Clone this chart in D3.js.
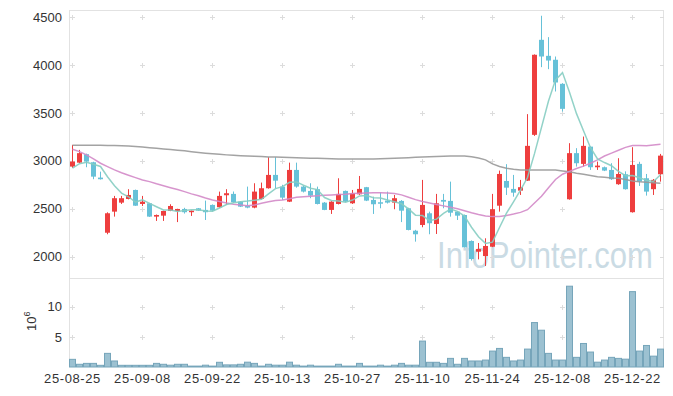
<!DOCTYPE html>
<html><head><meta charset="utf-8">
<script src="https://cdn.jsdelivr.net/npm/d3@7"></script>
<style>body{margin:0;background:#fff}svg{display:block}text{font-family:"Liberation Sans",Arial,sans-serif}</style>
</head><body><svg id="c" width="673" height="396"></svg>
<script>
const dates = [
"25-08-25","25-08-26","25-08-27","25-08-28","25-08-29",
"25-09-01","25-09-02","25-09-03","25-09-04","25-09-05",
"25-09-08","25-09-09","25-09-10","25-09-11","25-09-12",
"25-09-15","25-09-16","25-09-17","25-09-18","25-09-19",
"25-09-22","25-09-23","25-09-24","25-09-25","25-09-26",
"25-09-29","25-09-30","25-10-01","25-10-02","25-10-10",
"25-10-13","25-10-14","25-10-15","25-10-16","25-10-17",
"25-10-20","25-10-21","25-10-22","25-10-23","25-10-24",
"25-10-27","25-10-28","25-10-29","25-10-30","25-10-31",
"25-11-03","25-11-04","25-11-05","25-11-06","25-11-07",
"25-11-10","25-11-11","25-11-12","25-11-13","25-11-14",
"25-11-17","25-11-18","25-11-19","25-11-20","25-11-21",
"25-11-24","25-11-25","25-11-26","25-11-27","25-11-28",
"25-12-01","25-12-02","25-12-03","25-12-04","25-12-05",
"25-12-08","25-12-09","25-12-10","25-12-11","25-12-12",
"25-12-15","25-12-16","25-12-17","25-12-18","25-12-19",
"25-12-22","25-12-23","25-12-24","25-12-26","25-12-29"];
const open  = [2940,2981,3069,2985,2825,2250,2470,2564,2602,2696,2550,2557,2418,2428,2477,2477,2498,2464,2505,2488,2540,2516,2641,2655,2574,2532,2512,2602,2714,2853,2731,2574,2905,2731,2686,2704,2564,2488,2550,2686,2557,2651,2725,2592,2568,2585,2564,2582,2505,2271,2331,2453,2341,2592,2582,2470,2435,2164,2052,2007,2104,2532,2790,2707,2689,2793,3271,4262,4095,4054,3803,2599,3080,2968,3148,2933,2933,2905,2756,2860,2464,2968,2818,2704,2860];
const high  = [3166,3114,3075,2990,2887,2463,2634,2634,2704,2700,2634,2562,2440,2480,2547,2500,2510,2482,2508,2585,2545,2679,2704,2680,2580,2731,2766,2773,3038,3038,2750,2981,2981,2740,2766,2731,2570,2580,2818,2690,2696,2842,2728,2626,2672,2679,2644,2590,2510,2280,2801,2470,2655,2655,2783,2475,2440,2170,2143,2192,2655,2898,2965,2853,2801,3487,4110,4513,4290,4088,3810,3184,3132,3253,3150,2992,2940,2975,3027,2890,3142,2990,2863,2810,3072];
const low   = [2926,2975,2933,2808,2805,2234,2418,2550,2598,2530,2529,2415,2373,2373,2475,2361,2450,2425,2478,2383,2478,2510,2540,2560,2518,2505,2505,2595,2710,2714,2592,2570,2720,2670,2610,2545,2485,2446,2545,2570,2550,2645,2580,2446,2505,2555,2495,2361,2275,2157,2307,2234,2237,2505,2418,2383,2095,1960,1972,1903,2100,2470,2644,2626,2644,2790,3260,3977,3956,3723,3514,2595,2940,2940,2905,2905,2893,2800,2750,2700,2460,2738,2637,2644,2783];
const close = [2992,3080,2992,2835,2808,2453,2610,2610,2644,2532,2574,2418,2435,2477,2529,2498,2464,2480,2480,2464,2480,2634,2662,2568,2522,2512,2679,2714,2853,2793,2616,2905,2731,2679,2637,2550,2488,2574,2655,2574,2662,2707,2585,2547,2557,2564,2610,2480,2279,2234,2540,2349,2557,2574,2459,2428,2098,1976,2080,2112,2495,2863,2720,2668,2725,3156,4106,4088,4046,3817,3542,3080,2975,3156,2933,2950,2898,2808,2863,2704,2957,2783,2679,2801,3054];
const ma5   = [2923,2970,2985,2965,2941,2834,2740,2663,2625,2570,2594,2556,2521,2487,2487,2471,2481,2490,2490,2477,2474,2508,2544,2562,2573,2580,2589,2599,2656,2710,2731,2776,2780,2745,2714,2700,2617,2586,2581,2568,2591,2634,2637,2615,2612,2592,2573,2552,2498,2433,2429,2376,2392,2451,2496,2473,2423,2307,2208,2139,2152,2305,2454,2572,2694,2826,3075,3349,3624,3843,3920,3715,3492,3314,3137,3019,2982,2949,2890,2845,2846,2823,2797,2785,2855];
const ma20  = [3121,3096,3062,3020,2975,2940,2905,2875,2850,2825,2800,2783,2760,2740,2720,2700,2679,2655,2635,2612,2592,2575,2560,2548,2538,2532,2540,2557,2572,2585,2592,2605,2620,2625,2630,2635,2640,2644,2648,2652,2658,2662,2665,2668,2668,2665,2658,2645,2620,2595,2575,2560,2545,2530,2515,2500,2480,2458,2440,2425,2418,2420,2430,2445,2462,2490,2560,2630,2720,2805,2860,2890,2920,2945,2975,3010,3050,3080,3110,3140,3160,3160,3156,3165,3172];
const ma120 = [3163,3163,3163,3162,3162,3161,3160,3158,3155,3150,3143,3136,3130,3124,3117,3110,3104,3095,3087,3080,3074,3068,3062,3057,3053,3050,3047,3044,3041,3039,3037,3035,3032,3030,3028,3026,3024,3022,3020,3019,3018,3018,3019,3020,3022,3024,3027,3030,3033,3036,3039,3042,3044,3047,3050,3051,3051,3042,3030,3010,2968,2940,2922,2912,2905,2905,2905,2905,2905,2903,2895,2885,2870,2860,2848,2835,2828,2822,2818,2805,2790,2782,2776,2771,2766];
const volume = [1.27,0.45,0.6,0.6,0.28,2.26,1.0,0.28,0.28,0.28,0.28,0.28,0.6,0.45,0.3,0.45,0.45,0.15,0.15,0.3,0.15,0.78,0.35,0.35,0.45,0.8,0.6,0.15,0.45,0.3,0.3,0.8,0.3,0.15,0.3,0.15,0.15,0.15,0.45,0.15,0.15,0.6,0.15,0.15,0.3,0.15,0.3,0.6,0.3,0.3,4.3,0.78,0.78,0.6,1.43,0.45,1.43,1.0,1.0,1.15,2.64,3.08,1.6,1.0,1.15,2.97,7.37,6.1,2.26,1.15,1.15,13.4,1.6,3.9,2.48,0.8,1.15,1.6,1.43,1.3,12.5,2.64,3.57,1.8,2.97];
const xTickLabels = ["25-08-25","25-09-08","25-09-22","25-10-13","25-10-27","25-11-10","25-11-24","25-12-08","25-12-22"];
const priceTicks = [2000,2500,3000,3500,4000,4500];
const volTicks = [5,10];

const svg = d3.select("#c");
const L = 69, R = 664, PT = 10, PB = 278, VB = 367;
const x = d3.scaleBand().domain(dates).range([L, R]).padding(0);
const cx = d => x(d) + x.bandwidth()/2;
const y = d3.scaleLinear().domain([2000, 4500]).range([256.7, 17]);
const yv = d3.scaleLinear().domain([0, 10]).range([VB, 306.7]);
const UP = "#ee3e3e", DOWN = "#66c1d8";
const FONT = "Liberation Sans, Arial, sans-serif";

// watermark
svg.append("text").attr("transform", "translate(437,268) scale(0.84,1)").attr("font-size", 37)
  .attr("font-family", FONT).attr("fill", "#cadbe4").text("InfoPointer.com");

// frames
const frame = svg.append("g").attr("stroke", "#e2e2e2").attr("fill", "none");
frame.append("line").attr("x1", L+0.5).attr("x2", L+0.5).attr("y1", PT).attr("y2", VB);
frame.append("line").attr("x1", R-0.5).attr("x2", R-0.5).attr("y1", PT).attr("y2", VB);
frame.append("line").attr("x1", L).attr("x2", R).attr("y1", PT+0.5).attr("y2", PT+0.5);
frame.append("line").attr("x1", L).attr("x2", R).attr("y1", PB+0.5).attr("y2", PB+0.5);

// cross grid marks
const grid = svg.append("g").attr("stroke", "#dcdcdc").attr("stroke-width", 1);
const gx = xTickLabels.map(cx);
const gy = priceTicks.map(v => Math.round(y(v)) + 0.5).concat(volTicks.map(v => Math.round(yv(v)) + 0.5));
gx.forEach(px => gy.forEach(py => {
  grid.append("line").attr("x1", px-2.5).attr("x2", px+2.5).attr("y1", py).attr("y2", py);
  grid.append("line").attr("x1", px).attr("x2", px).attr("y1", py-2.5).attr("y2", py+2.5);
}));
gy.forEach(py => grid.append("line").attr("x1", R-4).attr("x2", R).attr("y1", py).attr("y2", py));

// y axes
const yAxis = d3.axisLeft(y).tickValues(priceTicks).tickFormat(d3.format("d")).tickSize(0).tickPadding(7);
svg.append("g").attr("transform", `translate(${L},0)`).call(yAxis)
  .call(g => g.select(".domain").remove())
  .selectAll("text").attr("font-size", 13).attr("fill", "#333").attr("font-family", FONT);
const vAxis = d3.axisLeft(yv).tickValues(volTicks).tickFormat(d3.format("d")).tickSize(0).tickPadding(7);
svg.append("g").attr("transform", `translate(${L},0)`).call(vAxis)
  .call(g => g.select(".domain").remove())
  .selectAll("text").attr("font-size", 13).attr("fill", "#333").attr("font-family", FONT);
const vl = svg.append("text").attr("transform", "translate(36,331) rotate(-90)")
  .attr("font-size", 13).attr("fill", "#333");
vl.append("tspan").text("10");
vl.append("tspan").attr("font-size", 9).attr("dy", -6).text("6");

// x axis
const xAxis = d3.axisBottom(x).tickValues(xTickLabels).tickSize(0).tickPadding(7);
svg.append("g").attr("transform", `translate(0,${VB})`).call(xAxis)
  .call(g => g.select(".domain").remove())
  .selectAll("text").attr("font-size", 13).attr("fill", "#333").attr("letter-spacing", "0.6px")
  .attr("font-family", FONT);

// volume bars
svg.append("g").selectAll("rect").data(dates).join("rect")
  .attr("x", d => x(d) + 0.5).attr("width", x.bandwidth() - 1)
  .attr("y", (d, i) => yv(volume[i])).attr("height", (d, i) => VB - yv(volume[i]))
  .attr("fill", "#9cc1d1").attr("stroke", "#76a5ba").attr("stroke-width", 1);

// candles
const cg = svg.append("g");
dates.forEach((d, i) => {
  const col = close[i] >= open[i] ? UP : DOWN;
  cg.append("line").attr("x1", cx(d)).attr("x2", cx(d))
    .attr("y1", y(high[i])).attr("y2", y(low[i])).attr("stroke", col).attr("stroke-width", 1);
  const top = y(Math.max(open[i], close[i])), bot = y(Math.min(open[i], close[i]));
  cg.append("rect").attr("x", x(d) + 1).attr("width", x.bandwidth() - 2)
    .attr("y", top).attr("height", Math.max(1.5, bot - top)).attr("fill", col);
});

// moving averages
const line = arr => d3.line().x((d, i) => cx(dates[i])).y(d => y(d))(arr);
svg.append("path").attr("d", line(ma120)).attr("fill", "none").attr("stroke", "#999").attr("stroke-width", 1.5).attr("opacity", 0.9);
svg.append("path").attr("d", line(ma20)).attr("fill", "none").attr("stroke", "#d38ac8").attr("stroke-width", 1.5).attr("opacity", 0.9);
svg.append("path").attr("d", line(ma5)).attr("fill", "none").attr("stroke", "#86cdc2").attr("stroke-width", 1.5).attr("opacity", 0.9);
</script></body></html>
